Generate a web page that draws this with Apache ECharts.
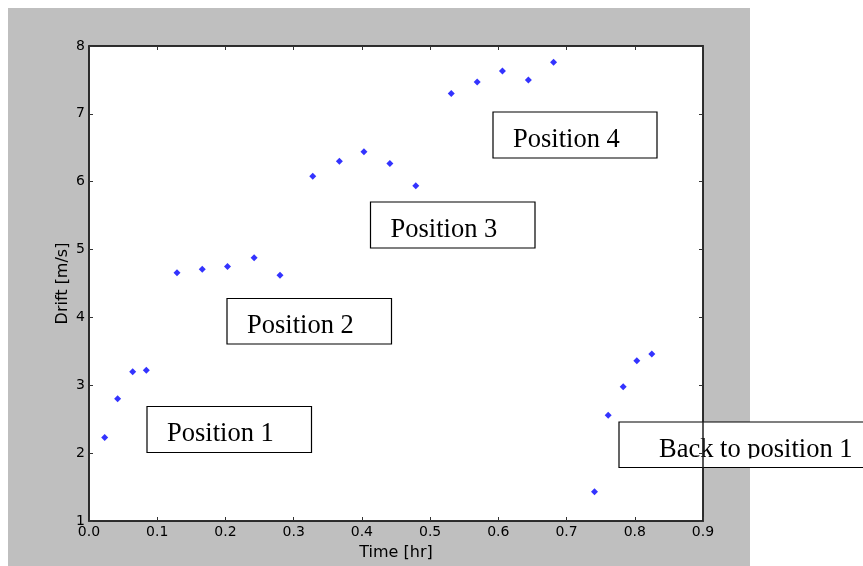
<!DOCTYPE html>
<html>
<head>
<meta charset="utf-8">
<script src="https://cdn.jsdelivr.net/npm/echarts@6/dist/echarts.min.js"></script>
<style>
  html, body { margin: 0; padding: 0; background: #fff; }
  #myChart { width: 863px; height: 566px; }
</style>
</head>
<body>
<div id="myChart"></div>
<script>
    // values
    var timeHr = [0.023, 0.042, 0.064, 0.084, 0.129, 0.166, 0.203, 0.242, 0.280,
                  0.328, 0.367, 0.403, 0.441, 0.479, 0.531, 0.569, 0.606, 0.644,
                  0.681, 0.741, 0.761, 0.783, 0.803, 0.825];
    var driftMs = [2.23, 2.80, 3.20, 3.22, 4.66, 4.71, 4.75, 4.88, 4.62,
                   6.08, 6.30, 6.44, 6.27, 5.94, 7.30, 7.47, 7.63, 7.50,
                   7.76, 1.43, 2.56, 2.98, 3.36, 3.46];
    var xTickLabels = ['0.0', '0.1', '0.2', '0.3', '0.4', '0.5', '0.6', '0.7', '0.8', '0.9'];
    var yTickLabels = ['1', '2', '3', '4', '5', '6', '7', '8'];
    var notes = ['Position 1', 'Position 2', 'Position 3', 'Position 4', 'Back to position 1'];

    var points = [];
    for (var i = 0; i < timeHr.length; i++) {
        points.push([timeHr[i], driftMs[i]])
    }

    var tickFont = { fontFamily: 'DejaVu Sans', fontSize: 14, color: '#000' };
    var nameFont = { fontFamily: 'DejaVu Sans', fontSize: 16, color: '#000' };
    var frameLine = { show: true, onZero: false, lineStyle: { color: '#222', width: 1.5 } };
    var innerTick = { show: true, inside: true, length: 4, lineStyle: { color: '#333', width: 1 } };

    // text box: left, top, width, height, text padding
    function noteBox (text, left, top, w, h, pad, clipBottom) {
        var kids = [
            { type: 'rect', shape: { x: 0, y: 0, width: w, height: h },
              style: { fill: '#fff', stroke: null } },
            { type: 'text', x: pad, y: 28,
              style: { text: text, fontFamily: 'Liberation Serif', fontSize: 26.5,
                       fill: '#000', verticalAlign: 'middle', align: 'left' } }
        ];
        if (clipBottom) {
            kids.push({ type: 'rect', shape: { x: 1, y: clipBottom, width: w - 2, height: h - clipBottom },
                        style: { fill: '#fff', stroke: null } });
        }
        kids.push({ type: 'rect', shape: { x: 0, y: 0, width: w, height: h },
                    style: { fill: null, stroke: '#000', lineWidth: 1.2 } });
        return { type: 'group', x: left, y: top, z: 100, children: kids };
    }

    var myChart = echarts.init(document.getElementById('myChart'));
    myChart.setOption({
        backgroundColor: '#fff',
        animation: false,
        grid: {
            left: 89, top: 46, width: 614, height: 475,
            show: true, backgroundColor: '#fff', borderColor: '#222', borderWidth: 1.5
        },
        graphic: [
            { type: 'rect', z: -100, silent: true,
              shape: { x: 8, y: 8, width: 742, height: 570 },
              style: { fill: '#bfbfbf' } },
            noteBox(notes[0], 147, 406.5, 164.5, 46, 20),
            noteBox(notes[1], 227, 298.5, 164.5, 45.5, 20),
            noteBox(notes[2], 370.5, 202, 164.5, 46, 20),
            noteBox(notes[3], 493, 112, 164, 46, 20),
            noteBox(notes[4], 619, 422, 300, 45.5, 40, 36.5)
        ],
        xAxis: [{
            type: 'value', position: 'bottom', min: 0, max: 0.9, interval: 0.1,
            name: 'Time [hr]', nameLocation: 'middle', nameGap: 23.5,
            nameTextStyle: nameFont,
            axisLine: frameLine, axisTick: innerTick,
            axisLabel: Object.assign({ margin: 4, formatter: function (v, idx) { return xTickLabels[idx] } }, tickFont),
            splitLine: { show: false }
        }, {
            type: 'value', position: 'top', min: 0, max: 0.9, interval: 0.1,
            axisLine: frameLine, axisTick: innerTick,
            axisLabel: { show: false }, splitLine: { show: false }
        }],
        yAxis: [{
            type: 'value', position: 'left', min: 1, max: 8, interval: 1,
            name: 'Drift [m/s]', nameLocation: 'middle', nameGap: 18, nameRotate: 90,
            nameMoveOverlap: false,
            nameTextStyle: nameFont,
            axisLine: frameLine, axisTick: innerTick,
            axisLabel: Object.assign({ margin: 4, formatter: function (v, idx) { return yTickLabels[idx] } }, tickFont),
            splitLine: { show: false }
        }, {
            type: 'value', position: 'right', min: 1, max: 8, interval: 1,
            axisLine: frameLine, axisTick: innerTick,
            axisLabel: { show: false }, splitLine: { show: false }
        }],
        series: [{
            type: 'scatter',
            data: points,
            symbol: 'diamond',
            symbolSize: 7,
            itemStyle: { color: '#0000ff' }
        }]
    });
</script>
</body>
</html>
